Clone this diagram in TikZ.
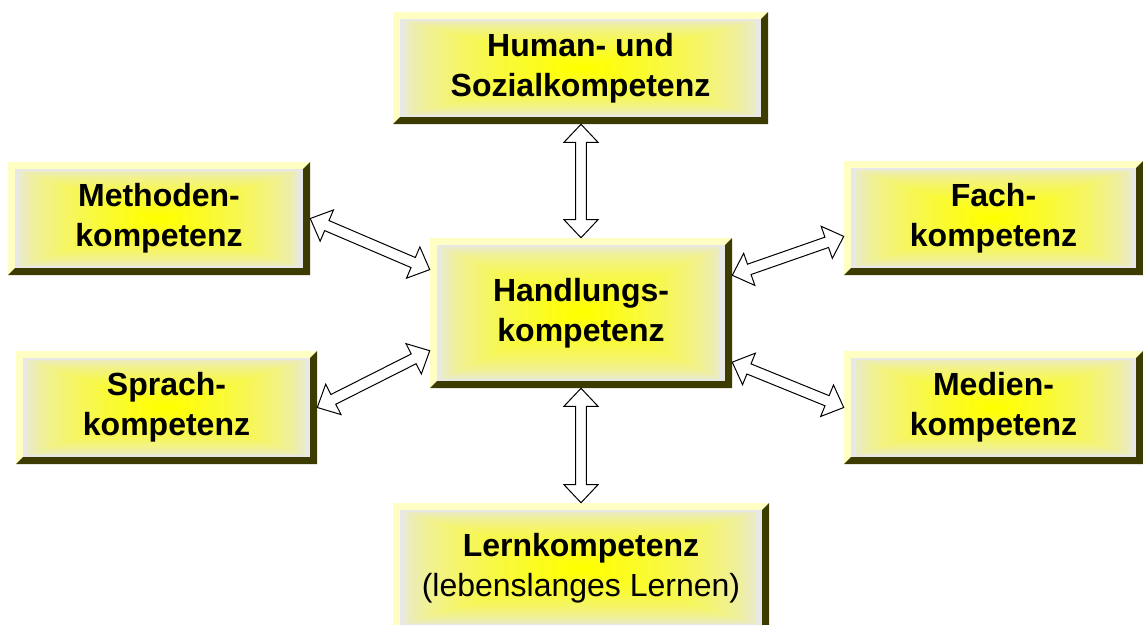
\documentclass[tikz,border=0pt]{standalone}
\usepackage{fontspec}
\setmainfont{Liberation Sans}
\usetikzlibrary{calc}
\definecolor{bevlight}{RGB}{255,255,195}
\definecolor{bevdark}{RGB}{60,60,0}
\definecolor{facegray}{RGB}{232,232,230}
\definecolor{faceyel}{RGB}{255,255,0}
\tikzset{
  lbl/.style={draw=none, inner sep=0pt, align=center, text=black,
    font=\bfseries\fontsize{24}{30}\selectfont},
  blockarrow/.style={draw=black, fill=white, line width=0.75pt, line join=miter},
}
\newcommand{\BevelBox}[7][]{%
  \fill[bevlight] (#3,#4) -- (#5,#4) -- ({#5-7},{#4+7}) -- ({#3+7},{#4+7}) -- ({#3+7},{#6-7}) -- (#3,#6) -- cycle;
  \fill[bevdark] (#5,#4) -- (#5,#6) -- (#3,#6) -- ({#3+7},{#6-7}) -- ({#5-7},{#6-7}) -- ({#5-7},{#4+7}) -- cycle;
  \pgfmathsetmacro\bbcx{(#3+#5)/2}
  \pgfmathsetmacro\bbcy{(#4+#6)/2}
  \pgfmathsetmacro\bbhw{(#5-#3)/2-7}
  \pgfmathsetmacro\bbhh{(#6-#4)/2-7}
  \pgfmathsetmacro\bbw{(#5-#3)*0.75}
  \pgfmathsetmacro\bbh{(#6-#4)*0.75}
  \foreach \i in {0,...,29}{
    \pgfmathsetmacro\bbf{1-\i/30}
    \pgfmathsetmacro\bbm{100*(\i/29)^0.55}
    \fill[faceyel!\bbm!facegray] ({\bbcx-\bbf*\bbhw},{\bbcy-\bbf*\bbhh}) rectangle ({\bbcx+\bbf*\bbhw},{\bbcy+\bbf*\bbhh});
  }
  \node[lbl, minimum width=\bbw pt, minimum height=\bbh pt, #1] (#2) at (\bbcx,\bbcy) {#7};
}
\newcommand{\BlockArrow}[2]{%
  \path #1 coordinate (ba1) #2 coordinate (ba2);
  \path ($(ba1)!13.5pt!(ba2)$) coordinate (bh1) ($(ba2)!13.5pt!(ba1)$) coordinate (bh2);
  \draw[blockarrow] (ba1) -- ($(bh1)!12.75pt!90:(ba2)$) -- ($(bh1)!4.1pt!90:(ba2)$)
    -- ($(bh2)!4.1pt!-90:(ba1)$) -- ($(bh2)!12.75pt!-90:(ba1)$) -- (ba2)
    -- ($(bh2)!12.75pt!90:(ba1)$) -- ($(bh2)!4.1pt!90:(ba1)$)
    -- ($(bh1)!4.1pt!-90:(ba2)$) -- ($(bh1)!12.75pt!-90:(ba2)$) -- cycle;
}
\begin{document}
\begin{tikzpicture}[x=0.75pt, y=-0.75pt]
\useasboundingbox (0,0) rectangle (1143,625);
\clip (0,0) rectangle (1143,625);
\fill[white] (0,0) rectangle (1143,625);
\BevelBox{hum}{393}{12}{768}{124}{Human- und\\Sozialkompetenz}
\BevelBox{meth}{8}{162}{310}{275}{Methoden-\\kompetenz}
\BevelBox{fach}{844}{161}{1143}{275}{Fach-\\kompetenz}
\BevelBox{hand}{430}{238}{732}{388}{Handlungs-\\kompetenz}
\BevelBox{sprach}{16}{351}{317}{464}{Sprach-\\kompetenz}
\BevelBox{med}{844}{351}{1143}{464}{Medien-\\kompetenz}
\BevelBox[font=\fontsize{24}{30}\selectfont]{lern}{393}{503}{769}{633}{\textbf{Lernkompetenz}\\(lebenslanges Lernen)}
\BlockArrow{(hum.south -| hand.north)}{(hand.north)}
\BlockArrow{(meth.east)}{(hand.164)}
\BlockArrow{(sprach.east)}{(hand.194)}
\BlockArrow{(hand.14)}{(fach.187)}
\BlockArrow{(hand.342)}{(med.west)}
\BlockArrow{(hand.south)}{(hand.south |- lern.north)}
\end{tikzpicture}
\end{document}
